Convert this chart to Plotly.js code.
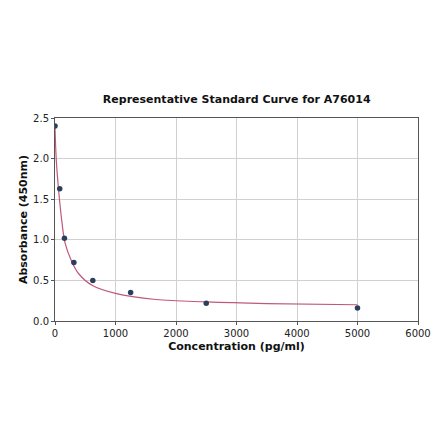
<!DOCTYPE html>
<html>
<head>
<meta charset="utf-8">
<script src="https://cdn.plot.ly/plotly-3.0.1.min.js"></script>
<style>
  html, body { margin: 0; padding: 0; background: #fff; }
  #plot { width: 440px; height: 441px; }
</style>
</head>
<body>
<div id="plot"></div>
<script>
// standard points (pg/ml, OD 450nm)
var concentration = [0, 78, 156, 312, 625, 1250, 2500, 5000];
var absorbance = [2.40, 1.63, 1.02, 0.72, 0.50, 0.35, 0.22, 0.16];

// fitted curve
var curveX = [0, 20, 55, 111, 167, 278, 389, 611, 1000, 1667, 2500, 3500, 5000];
var curveY = [2.38, 2.00, 1.65, 1.24, 0.96, 0.73, 0.585, 0.44, 0.34, 0.265, 0.235, 0.215, 0.20];

var xTicks = [0, 1000, 2000, 3000, 4000, 5000, 6000];
var yTicks = [0.0, 0.5, 1.0, 1.5, 2.0, 2.5];

var fit = {
    x: curveX,
    y: curveY,
    mode: "lines",
    line: {color: "#c0587c", width: 1.2, shape: "spline", smoothing: 1},
    hoverinfo: "skip",
    showlegend: false
};

var points = {
    x: concentration,
    y: absorbance,
    mode: "markers",
    marker: {color: "#2b3f5c", size: 5.5},
    showlegend: false
};

var axisStyle = {
    showgrid: true,
    gridcolor: "#d0d0d0",
    gridwidth: 1,
    zeroline: false,
    showline: true,
    linecolor: "#555",
    linewidth: 1,
    mirror: true,
    ticks: "outside",
    ticklen: 3,
    tickcolor: "#555",
    tickfont: {size: 10, color: "#222"}
};

var layout = {
    width: 440,
    height: 441,
    margin: {l: 55, r: 22, t: 118, b: 120},
    paper_bgcolor: "#fff",
    plot_bgcolor: "#fff",
    font: {family: "DejaVu Sans", color: "#111"},
    title: {
        text: "<b>Representative Standard Curve for A76014</b>",
        font: {size: 11},
        x: 0.538,
        xanchor: "center",
        y: 0.775,
        yanchor: "middle"
    },
    xaxis: Object.assign({}, axisStyle, {
        range: [0, 6000],
        tickvals: xTicks,
        ticktext: xTicks.map(String),
        title: {text: "<b>Concentration (pg/ml)</b>", font: {size: 11}, standoff: 4}
    }),
    yaxis: Object.assign({}, axisStyle, {
        range: [0, 2.5],
        tickvals: yTicks,
        ticktext: yTicks.map(v => v.toFixed(1)),
        title: {text: "<b>Absorbance (450nm)</b>", font: {size: 11}, standoff: 3}
    })
};

Plotly.newPlot("plot", [fit, points], layout, {displayModeBar: false, staticPlot: true});
</script>
</body>
</html>
